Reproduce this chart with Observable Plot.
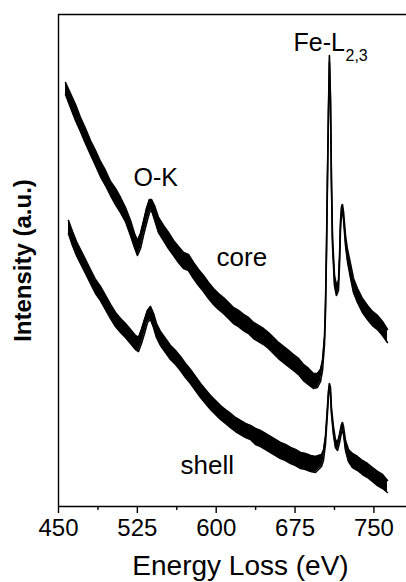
<!DOCTYPE html>
<html><head><meta charset="utf-8">
<script src="https://cdn.jsdelivr.net/npm/d3@7"></script>
<script src="https://cdn.jsdelivr.net/npm/@observablehq/plot@0.6"></script>
<style>body{margin:0;background:#fff}</style>
</head><body>
<script>
// Energy loss (eV) and intensity envelope (arbitrary units) of the two EELS spectra
const coreE = [456.7,461.4,466.2,470.9,475.7,480.4,485.2,489.9,494.7,499.5,504.2,509.0,513.7,518.5,522.3,525.1,528.0,530.8,533.7,536.5,538.5,541.3,545.1,549.9,554.6,559.4,564.1,568.9,573.6,578.4,583.2,587.9,592.7,597.4,602.2,606.9,611.7,616.4,621.2,626.0,630.7,635.5,640.2,645.0,649.7,654.5,659.2,664.0,668.8,673.5,678.3,683.0,687.8,692.5,696.3,699.2,701.1,703.0,703.9,704.9,705.8,706.8,707.7,708.7,709.6,710.6,712.5,714.4,716.3,717.3,718.2,719.2,720.1,721.1,723.0,724.9,727.7,730.6,734.4,739.1,743.9,748.6,753.4,758.2,762.9];
const coreHi = [424,413,402,389,378,366,356,345,336,325,318,309,299,286,273,266,273,285,298,307,307,301,289,281,274,266,260,254,252,244,237,231,224,218,213,209,204,199,196,192,189,184,181,178,174,169,164,160,156,152,148,142,138,133,133,137,146,170,200,259,329,399,451,409,329,270,231,221,226,250,285,300,302,295,271,257,243,228,218,208,201,195,191,185,177];
const coreLo = [412,399,386,375,363,352,341,330,321,311,302,294,285,271,259,251,258,271,283,294,296,287,274,266,258,251,244,238,236,228,221,215,208,202,197,193,188,183,180,176,173,168,165,162,158,153,148,144,140,136,132,126,122,118,119,125,136,162,192,253,323,394,444,403,323,262,221,211,216,242,277,292,296,287,261,245,229,214,204,194,187,181,177,171,164];

const shellE = [459.5,463.3,467.1,470.9,475.7,480.4,485.2,489.9,494.7,499.5,504.2,509.0,513.7,518.5,523.2,526.1,528.9,531.8,534.6,537.5,540.4,543.2,547.0,551.8,556.5,561.3,566.0,570.8,575.5,580.3,585.1,589.8,594.6,599.3,604.1,608.8,613.6,618.3,623.1,627.9,632.6,637.4,642.1,646.9,651.6,656.4,661.1,665.9,670.7,675.4,680.2,684.9,689.7,694.4,697.3,700.1,702.0,703.9,705.8,706.8,707.7,708.7,709.6,711.5,713.4,715.4,717.3,719.2,720.1,721.1,723.0,725.8,729.6,734.4,739.1,743.9,748.6,753.4,758.2,762.9];
const shellHi = [286,275,265,257,247,237,227,220,211,202,194,188,183,177,171,169,177,187,196,200,193,183,175,168,161,156,150,143,137,130,123,117,111,106,101,97,93,89,86,83,81,78,76,73,70,67,64,62,59,57,54,53,51,50,51,52,56,70,99,116,123,119,99,80,67,64,72,82,84,80,66,57,53,50,46,43,39,35,32,26];
const shellLo = [273,261,251,243,233,223,213,206,197,188,180,174,169,163,157,155,163,173,184,187,179,169,161,154,147,142,136,129,123,116,109,103,97,92,87,83,79,75,72,69,67,62,60,57,54,51,48,46,43,41,38,37,35,34,37,40,46,62,93,110,118,113,93,72,59,56,64,74,76,72,56,45,39,36,32,29,25,21,18,14];

const majorTicks = [450, 525, 600, 675, 750];
const minorTicks = [487.5, 562.5, 637.5, 712.5];

const annoText = ["O-K", "core", "shell", "Fe-L"];
const annoE = [521.3, 600.3, 566.0, 673.5];
const annoI = [321, 241, 33, 456];
const annoSize = [25, 26, 26, 25];
const subText = ["2,3"];
const subE = [723.0];
const subI = [446];

const xTitle = "Energy Loss (eV)";
const yTitle = "Intensity (a.u.)";

const core = coreE.map((e, i) => ({e, hi: coreHi[i], lo: coreLo[i]}));
const shell = shellE.map((e, i) => ({e, hi: shellHi[i], lo: shellLo[i]}));
const annos = annoText.map((t, i) => ({t, e: annoE[i], v: annoI[i], s: annoSize[i]}));
const subs = subText.map((t, i) => ({t, e: subE[i], v: subI[i]}));

const spectrumMarks = (rows) => [
  Plot.areaY(rows, {x: "e", y1: "lo", y2: "hi", fill: "black"}),
  Plot.line(rows, {x: "e", y: "hi", stroke: "black", strokeWidth: 1.6}),
  Plot.line(rows, {x: "e", y: "lo", stroke: "black", strokeWidth: 1.6})
];

const chart = Plot.plot({
  width: 406,
  height: 582,
  marginTop: 14,
  marginBottom: 76,
  marginLeft: 58,
  marginRight: 0,
  x: {domain: [450, 781]},
  y: {domain: [0, 492], axis: null},
  style: {fontFamily: "'Liberation Sans', Arial, sans-serif", color: "black", background: "white"},
  marks: [
    ...spectrumMarks(core),
    ...spectrumMarks(shell),
    Plot.ruleX([450], {stroke: "black", strokeWidth: 1.4}),
    Plot.ruleY([0, 492], {stroke: "black", strokeWidth: 1.4}),
    Plot.axisX({ticks: majorTicks, tickSize: 7, tickPadding: 5, fontSize: 24, label: null, tickFormat: d => String(d), strokeWidth: 1.4}),
    Plot.ruleX(minorTicks, {insetTop: 492, insetBottom: -4, stroke: "black", strokeWidth: 1.4}),
    Plot.text(annos, {x: "e", y: "v", text: "t", fontSize: "s", textAnchor: "start", lineAnchor: "bottom", fill: "black"}),
    Plot.text(subs, {x: "e", y: "v", text: "t", fontSize: 16, textAnchor: "start", lineAnchor: "bottom", fill: "black"}),
    Plot.text([xTitle], {text: d => d, frameAnchor: "bottom", dy: 68, dx: 8, fontSize: 28, textAnchor: "middle", lineAnchor: "bottom", fill: "black"}),
    Plot.text([yTitle], {text: d => d, frameAnchor: "left", rotate: -90, dx: -35, fontSize: 24, fontWeight: "bold", textAnchor: "middle", lineAnchor: "middle", fill: "black"})
  ]
});
document.body.appendChild(chart);
</script>
</body></html>
